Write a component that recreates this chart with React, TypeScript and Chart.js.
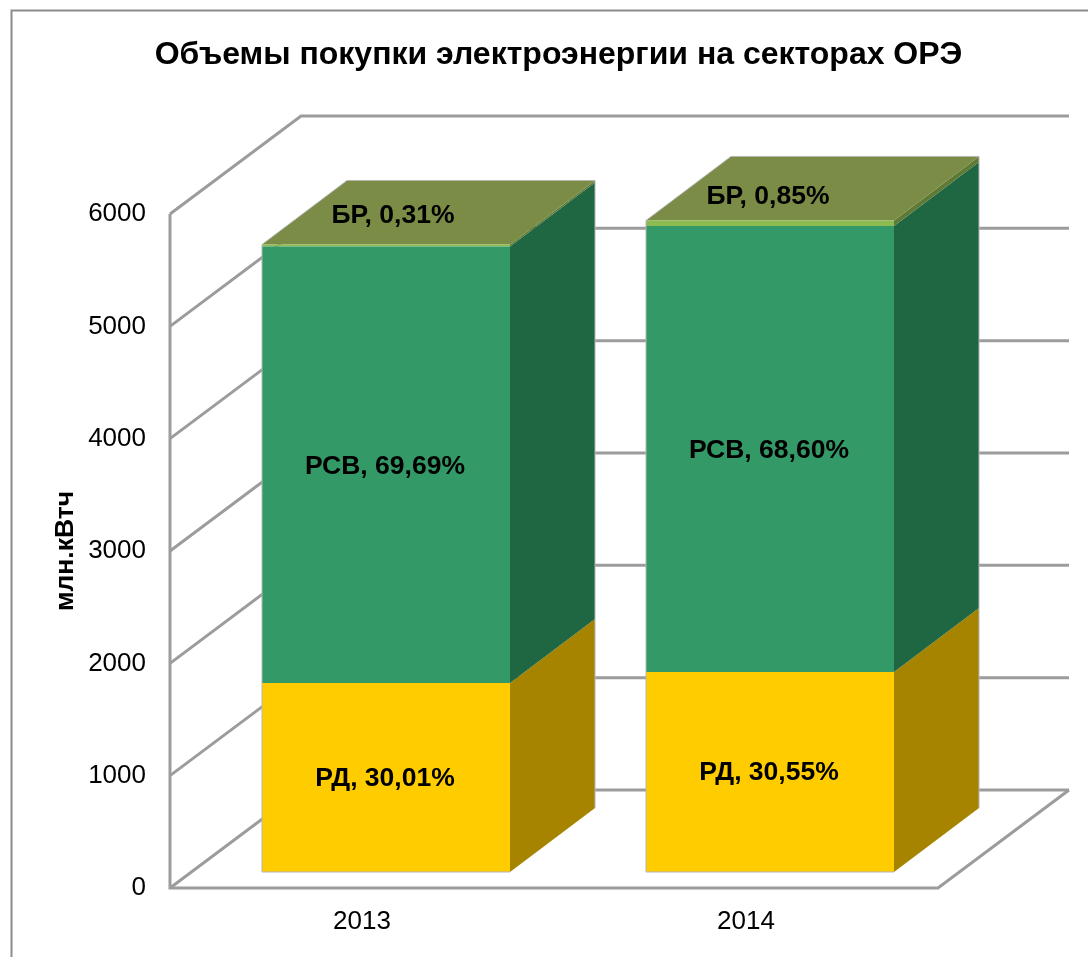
import React, { useEffect, useRef } from "react";
import { Chart, registerables } from "chart.js";

Chart.register(...registerables);

const titleText = "Объемы покупки электроэнергии на секторах ОРЭ";
const axisTitle = "млн.кВтч";
const categories = ["2013", "2014"];
const rdValues = [1682, 1780];
const rsvValues = [3887, 3971];
const brValues = [17, 49];
const rdLabels = ["РД, 30,01%", "РД, 30,55%"];
const rsvLabels = ["РСВ, 69,69%", "РСВ, 68,60%"];
const brLabels = ["БР, 0,31%", "БР, 0,85%"];

const FONT = '"Liberation Sans", Arial, sans-serif';
const GRID = "#9c9c9c";
const FRAME = "#8c8c8c";
const EDGE = "#b5b5b5";
const WALL = { x: 131, y: -98 };
const GAP = { x: 24, y: -16 };
const DEPTH = { x: 85, y: -64 };
const SIDE = ["#a68400", "#1f6642", "#5f7a35"];
const TOP = "#7a8c46";
const BR_LABEL_SHIFT = [{ x: 7, y: -29 }, { x: -2, y: -24 }];

const trace = (ctx: CanvasRenderingContext2D, pts: number[][]) => {
  ctx.beginPath();
  pts.forEach((p, i) => (i ? ctx.lineTo(p[0], p[1]) : ctx.moveTo(p[0], p[1])));
};

const poly = (ctx: CanvasRenderingContext2D, pts: number[][], fill: string) => {
  trace(ctx, pts);
  ctx.closePath();
  ctx.fillStyle = fill;
  ctx.fill();
};

const stroke = (ctx: CanvasRenderingContext2D, pts: number[][], width = 3, color = GRID) => {
  trace(ctx, pts);
  ctx.lineWidth = width;
  ctx.strokeStyle = color;
  ctx.lineJoin = "miter";
  ctx.stroke();
};

const box3d = {
  id: "box3d",
  beforeDraw(chart: any) {
    const ctx = chart.ctx;
    ctx.save();
    ctx.fillStyle = "#ffffff";
    ctx.fillRect(0, 0, chart.width, chart.height);
    stroke(ctx, [[11.5, chart.height + 5], [11.5, 10.5], [chart.width + 5, 10.5]], 2, FRAME);
    ctx.restore();
  },
  beforeDatasetsDraw(chart: any) {
    const ctx = chart.ctx;
    const { left, right } = chart.chartArea;
    const y = chart.scales.y;
    ctx.save();
    y.ticks.forEach((t: any) => {
      const py = y.getPixelForValue(t.value);
      stroke(ctx, [
        [left, py],
        [left + WALL.x, py + WALL.y],
        [right + WALL.x, py + WALL.y],
      ]);
    });
    const y0 = y.getPixelForValue(0);
    const yTop = y.getPixelForValue(6000);
    stroke(ctx, [[left, yTop], [left, y0], [right, y0], [right + WALL.x, y0 + WALL.y]]);
    ctx.restore();

    ctx.save();
    ctx.translate(GAP.x, GAP.y);
    const metas = chart.data.datasets.map((_: any, i: number) => chart.getDatasetMeta(i));
    categories.forEach((_, c) => {
      metas.forEach((meta: any, d: number) => {
        const b = meta.data[c];
        const r = b.x + b.width / 2;
        poly(ctx, [
          [r, b.base],
          [r + DEPTH.x, b.base + DEPTH.y],
          [r + DEPTH.x, b.y + DEPTH.y],
          [r, b.y],
        ], SIDE[d]);
      });
      const t = metas[metas.length - 1].data[c];
      const l = t.x - t.width / 2;
      const r = t.x + t.width / 2;
      poly(ctx, [
        [l, t.y],
        [r, t.y],
        [r + DEPTH.x, t.y + DEPTH.y],
        [l + DEPTH.x, t.y + DEPTH.y],
      ], TOP);
    });
  },
  afterDatasetsDraw(chart: any) {
    const ctx = chart.ctx;
    const metas = chart.data.datasets.map((_: any, i: number) => chart.getDatasetMeta(i));
    categories.forEach((_, c) => {
      const rd = metas[0].data[c];
      const br = metas[2].data[c];
      const l = rd.x - rd.width / 2;
      const r = rd.x + rd.width / 2;
      stroke(ctx, [
        [r, rd.base],
        [l, rd.base],
        [l, br.y],
        [l + DEPTH.x, br.y + DEPTH.y],
        [r + DEPTH.x, br.y + DEPTH.y],
        [r + DEPTH.x, rd.base + DEPTH.y],
      ], 1, EDGE);
    });
    ctx.restore();

    ctx.save();
    ctx.font = `bold 26.5px ${FONT}`;
    ctx.fillStyle = "#000000";
    ctx.textAlign = "center";
    ctx.textBaseline = "middle";
    categories.forEach((_, c) => {
      const rd = metas[0].data[c];
      const rsv = metas[1].data[c];
      const br = metas[2].data[c];
      ctx.fillText(rdLabels[c], rd.x + GAP.x - 1, (rd.y + rd.base) / 2 + GAP.y + 1);
      ctx.fillText(rsvLabels[c], rsv.x + GAP.x - 1, (rsv.y + rsv.base) / 2 + GAP.y + 2);
      ctx.fillText(brLabels[c], br.x + GAP.x + BR_LABEL_SHIFT[c].x, br.y + GAP.y + BR_LABEL_SHIFT[c].y);
    });
    ctx.restore();
  },
};

export default function App() {
  const ref = useRef<HTMLCanvasElement | null>(null);
  useEffect(() => {
    if (!ref.current) return;
    const barOpts = { barPercentage: 248 / 384, categoryPercentage: 1, borderWidth: 0, clip: false as any };
    const chart = new Chart(ref.current, {
      type: "bar",
      plugins: [box3d],
      data: {
        labels: categories,
        datasets: [
          { label: "РД", data: rdValues, backgroundColor: "#ffcc00", ...barOpts },
          { label: "РСВ", data: rsvValues, backgroundColor: "#339966", ...barOpts },
          { label: "БР", data: brValues, backgroundColor: "#8dbb52", ...barOpts },
        ],
      },
      options: {
        responsive: false,
        animation: false,
        layout: { padding: { left: 29, right: 0, top: 0, bottom: 0 } },
        plugins: {
          legend: { display: false },
          tooltip: { enabled: false },
          title: {
            display: true,
            text: titleText,
            color: "#000000",
            font: { family: FONT, size: 32, weight: "bold", lineHeight: 1.2 },
            padding: { top: 36, bottom: 139.6 },
          },
        },
        scales: {
          x: {
            stacked: true,
            grid: { display: false, drawTicks: false },
            border: { display: false },
            ticks: { color: "#000000", padding: 18, font: { family: FONT, size: 26 } },
            afterFit: (s: any) => { s.height = 69; },
          },
          y: {
            stacked: true,
            min: 0,
            max: 6000,
            grid: { display: false, drawTicks: false },
            border: { display: false },
            ticks: {
              color: "#000000",
              stepSize: 1000,
              padding: 24,
              font: { family: FONT, size: 26 },
              callback: (v: any) => String(v),
            },
            title: {
              display: true,
              text: axisTitle,
              color: "#000000",
              font: { family: FONT, size: 26.5, weight: "bold", lineHeight: 1.2 },
              padding: { top: 21, bottom: 0 },
            },
            afterFit: (s: any) => { s.width = 141; },
          },
          spacer: {
            position: "right",
            display: true,
            grid: { display: false, drawTicks: false },
            border: { display: false },
            ticks: { display: false },
            afterFit: (s: any) => { s.width = 150; },
          },
        },
      },
    } as any);
    return () => chart.destroy();
  }, []);
  return (
    <div style={{ position: "absolute", left: 0, top: 0, width: 1088, height: 957, overflow: "hidden" }}>
      <canvas ref={ref} width={1088} height={957} style={{ display: "block" }} />
    </div>
  );
}
